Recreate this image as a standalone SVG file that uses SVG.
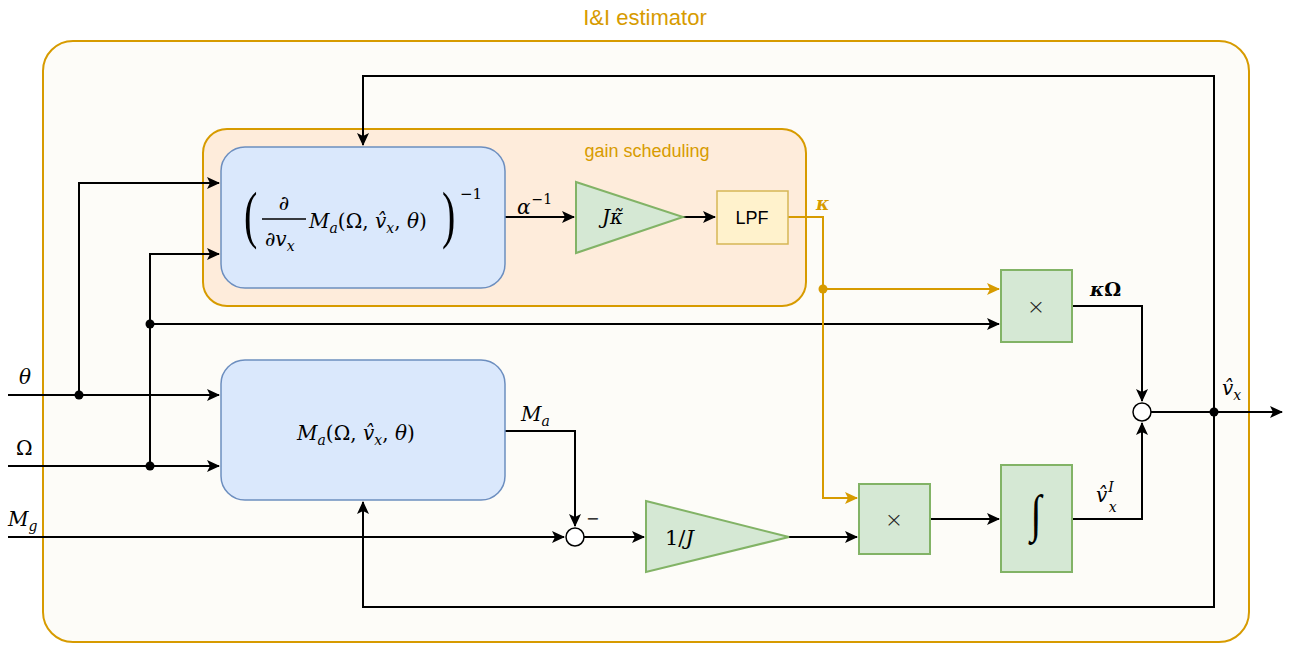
<svg xmlns="http://www.w3.org/2000/svg" width="1290" height="645" viewBox="0 0 1290 645">
<defs>
<marker id="ab" markerUnits="userSpaceOnUse" markerWidth="14" markerHeight="12" refX="12" refY="6" orient="auto">
<path d="M0,0 L13,6 L0,12 L3,6 Z" fill="#000"/>
</marker>
<marker id="ao" markerUnits="userSpaceOnUse" markerWidth="14" markerHeight="12" refX="12" refY="6" orient="auto">
<path d="M0,0 L13,6 L0,12 L3,6 Z" fill="#d79b00"/>
</marker>
</defs>
<style>
.w{fill:none;stroke:#000;stroke-width:2}
.o{fill:none;stroke:#d79b00;stroke-width:2}
.blue{fill:#dae8fc;stroke:#6c8ebf;stroke-width:1.5}
.grn{fill:#d5e8d4;stroke:#82b366;stroke-width:2}
.m{font-family:"DejaVu Serif","Liberation Serif",serif;font-style:italic;fill:#000}
.p{font-family:"Liberation Serif","DejaVu Serif",serif;fill:#000}
.r{font-style:normal}
.s{font-family:"Liberation Sans",Arial,sans-serif;fill:#000}
.x{font-family:"DejaVu Sans","Liberation Sans",sans-serif;font-weight:200;fill:#222}
.dot{fill:#000}
</style>
<rect width="1290" height="645" fill="#ffffff"/>
<g id="estimator">
<rect x="43" y="41" width="1206" height="601" rx="30" fill="#fdfcf8" stroke="#d79b00" stroke-width="2"/>
<text x="645" y="25" text-anchor="middle" font-family="Liberation Sans,Arial,sans-serif" font-size="22" fill="#d79b00">I&amp;I estimator</text>
</g>
<g id="gain-scheduling">
<rect x="203" y="129" width="603" height="177" rx="24" fill="#feecdb" stroke="#d79b00" stroke-width="2"/>
<text x="647" y="157" text-anchor="middle" font-family="Liberation Sans,Arial,sans-serif" font-size="18" fill="#d79b00">gain scheduling</text>
</g>
<g id="connectors">
<path class="w" d="M8,395 H219" marker-end="url(#ab)"/>
<path class="w" d="M79,395 V183 H219" marker-end="url(#ab)"/>
<path class="w" d="M8,466 H219" marker-end="url(#ab)"/>
<path class="w" d="M150,466 V254 H219" marker-end="url(#ab)"/>
<path class="w" d="M150,324 H999" marker-end="url(#ab)"/>
<path class="w" d="M8,537 H564" marker-end="url(#ab)"/>
<path class="w" d="M505,431 H575 V526" marker-end="url(#ab)"/>
<path class="w" d="M584,537 H644" marker-end="url(#ab)"/>
<path class="w" d="M789,537 H857" marker-end="url(#ab)"/>
<path class="w" d="M930,519 H999" marker-end="url(#ab)"/>
<path class="w" d="M1072,519 H1142 V423" marker-end="url(#ab)"/>
<path class="w" d="M1072,306 H1142 V401" marker-end="url(#ab)"/>
<path class="w" d="M1151,412 H1282" marker-end="url(#ab)"/>
<path class="w" d="M1214,412 V76 H363 V145" marker-end="url(#ab)"/>
<path class="w" d="M1214,412 V607 H363 V502" marker-end="url(#ab)"/>
<path class="w" d="M505,217 H574" marker-end="url(#ab)"/>
<path class="w" d="M683,217 H715" marker-end="url(#ab)"/>
<path class="o" d="M788,217 H823 V498 H857" marker-end="url(#ao)"/>
<path class="o" d="M823,289 H999" marker-end="url(#ao)"/>
<circle class="dot" cx="79" cy="395" r="4.5"/>
<circle class="dot" cx="150" cy="466" r="4.5"/>
<circle class="dot" cx="150" cy="324" r="4.5"/>
<circle class="dot" cx="1214" cy="412" r="4.5"/>
<circle cx="823" cy="289" r="4.5" fill="#d79b00"/>
</g>
<g id="inv-jacobian">
<rect class="blue" x="221" y="147" width="284" height="141" rx="24"/>
<text class="p" transform="translate(244,236) scale(1,1.6)" font-size="40">(</text>
<text class="m r" x="284" y="210" text-anchor="middle" font-size="20">∂</text>
<line x1="262" y1="219" x2="306" y2="219" stroke="#000" stroke-width="1.6"/>
<text class="m" x="265" y="246" font-size="20"><tspan class="r">∂</tspan>v<tspan font-size="14" dy="5">x</tspan></text>
<text class="m" x="309" y="228" font-size="20">M<tspan font-size="14" dy="5">a</tspan><tspan class="r" dy="-5">(Ω, </tspan>v̂<tspan font-size="14" dy="5">x</tspan><tspan class="r" dy="-5">, </tspan>θ<tspan class="r">)</tspan></text>
<text class="p" transform="translate(442,236) scale(1,1.6)" font-size="40">)</text>
<text class="m r" x="460" y="199" font-size="15">−1</text>
</g>
<g id="gain-block">
<polygon class="grn" points="576,182 683,217 576,253"/>
<text class="m" x="602" y="224" font-size="20">Jκ̃</text>
<text class="m" x="517" y="214" font-size="20">α<tspan class="r" font-size="14" dx="1" dy="-10">−1</tspan></text>
</g>
<g id="lpf">
<rect x="717" y="191" width="71" height="53" fill="#fff2cc" stroke="#d6b656" stroke-width="1.5"/>
<text class="s" x="752" y="224" text-anchor="middle" font-size="18">LPF</text>
<text class="m" x="816" y="210" font-size="18" fill="#d79b00" style="fill:#d79b00;font-weight:bold">κ</text>
</g>
<g id="model">
<rect class="blue" x="221" y="360" width="284" height="140" rx="24"/>
<text class="m" x="297" y="440" font-size="20">M<tspan font-size="14" dy="5">a</tspan><tspan class="r" dy="-5">(Ω, </tspan>v̂<tspan font-size="14" dy="5">x</tspan><tspan class="r" dy="-5">, </tspan>θ<tspan class="r">)</tspan></text>
</g>
<g id="mult-top">
<rect class="grn" x="1001" y="270" width="71" height="72"/>
<text class="x" x="1036" y="314" text-anchor="middle" font-size="22">×</text>
<text class="m" x="1090" y="296" font-size="19" font-weight="bold">κ<tspan class="r">Ω</tspan></text>
</g>
<g id="sum-out">
<circle cx="1142" cy="412" r="9" fill="#fff" stroke="#000" stroke-width="1.5"/>
<text class="m" x="1222" y="395" font-size="20">v̂<tspan font-size="14" dy="5">x</tspan></text>
</g>
<g id="sum-in">
<circle cx="575" cy="537" r="9" fill="#fff" stroke="#000" stroke-width="1.5"/>
<text class="m r" x="586" y="524" font-size="16">−</text>
</g>
<g id="inv-J">
<polygon class="grn" points="646,501 789,537 646,572"/>
<text class="m" x="665" y="545" font-size="21"><tspan class="r">1/</tspan>J</text>
</g>
<g id="mult-bottom">
<rect class="grn" x="859" y="484" width="71" height="70"/>
<text class="x" x="894" y="527" text-anchor="middle" font-size="22">×</text>
</g>
<g id="integrator">
<rect class="grn" x="1001" y="465" width="71" height="107"/>
<text class="p" transform="translate(1036,531) scale(1,1.3)" text-anchor="middle" font-size="40" font-style="italic">∫</text>
<text class="m" x="1096" y="502" font-size="20">v̂<tspan font-size="14" dx="1" dy="-10">I</tspan><tspan font-size="14" dx="-5" dy="20">x</tspan></text>
</g>
<g id="inputs">
<text class="m" x="19" y="384" font-size="20">θ</text>
<text class="m r" x="16" y="455" font-size="20">Ω</text>
<text class="m" x="8" y="526" font-size="20">M<tspan font-size="14" dy="5">g</tspan></text>
<text class="m" x="521" y="421" font-size="20">M<tspan font-size="14" dy="5">a</tspan></text>
</g>
</svg>
